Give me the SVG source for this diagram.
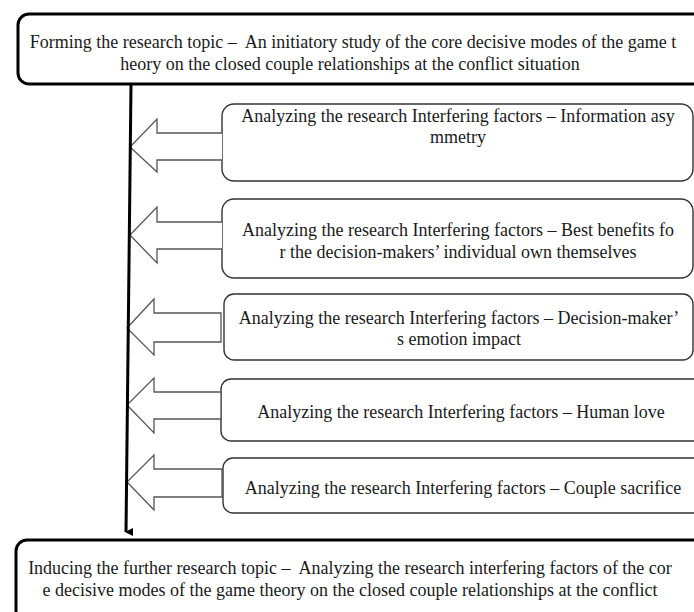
<svg xmlns="http://www.w3.org/2000/svg" width="694" height="612" viewBox="0 0 694 612">
<style>
.t{font-family:"Liberation Serif","Times New Roman",serif;font-size:18px;fill:#1a1a1a;text-anchor:middle;white-space:pre}
.big{fill:#fff;stroke:#000;stroke-width:3}
.box{fill:#fff;stroke:#333;stroke-width:1.4}
.arr{fill:#fff;stroke:#555;stroke-width:1.3;stroke-linejoin:miter}
</style>
<defs>
<marker id="ah" markerWidth="8" markerHeight="8" refX="4" refY="7" orient="auto" markerUnits="userSpaceOnUse" viewBox="0 0 8 8">
<path d="M0,0 L8,0 L4,8 Z" fill="#000"/>
</marker>
</defs>
<rect width="694" height="612" fill="#fff"/>
<g id="top">
<rect class="big" x="18" y="14" width="700" height="70" rx="11"/>
<text class="t" x="353" y="48">Forming the research topic –  An initiatory study of the core decisive modes of the game t</text>
<text class="t" x="350" y="70">heory on the closed couple relationships at the conflict situation</text>
</g>
<g id="f1">
<rect class="box" x="222" y="104" width="471" height="77" rx="12"/>
<text class="t" x="458" y="122">Analyzing the research Interfering factors – Information asy</text>
<text class="t" x="458" y="143">mmetry</text>
</g>
<g id="f2">
<rect class="box" x="222" y="199" width="471" height="79" rx="12"/>
<text class="t" x="458" y="236">Analyzing the research Interfering factors – Best benefits fo</text>
<text class="t" x="458" y="258">r the decision-makers’ individual own themselves</text>
</g>
<g id="f3">
<rect class="box" x="224" y="294" width="469" height="66" rx="10"/>
<text class="t" x="459" y="324">Analyzing the research Interfering factors – Decision-maker’</text>
<text class="t" x="459" y="345">s emotion impact</text>
</g>
<g id="f4">
<rect class="box" x="221" y="379" width="490" height="62" rx="10"/>
<text class="t" x="461" y="418">Analyzing the research Interfering factors – Human love</text>
</g>
<g id="f5">
<rect class="box" x="223" y="458" width="490" height="55" rx="10"/>
<text class="t" x="463" y="494">Analyzing the research Interfering factors – Couple sacrifice</text>
</g>
<g id="bottom">
<rect class="big" x="16" y="540" width="700" height="90" rx="11"/>
<text class="t" x="350" y="574">Inducing the further research topic –  Analyzing the research interfering factors of the cor</text>
<text class="t" x="350" y="596">e decisive modes of the game theory on the closed couple relationships at the conflict</text>
</g>
<g id="connectors">
<path class="arr" d="M222,133 L157,133 L157,119 L130,147 L157,172 L157,160 L222,160"/>
<path class="arr" d="M222,222 L157,222 L157,207 L130,235 L157,263 L157,249 L222,249"/>
<path class="arr" d="M221,342 L221,313 L154,313 L154,299 L127,328 L154,355 L154,342 Z"/>
<path class="arr" d="M221,419 L221,392 L154,392 L154,378 L127,405 L154,433 L154,419 Z"/>
<path class="arr" d="M222,497 L222,469 L154,469 L154,455 L127,482 L154,510 L154,497 Z"/>
<line x1="131" y1="84" x2="126" y2="532" stroke="#000" stroke-width="3" marker-end="url(#ah)"/>
</g>
</svg>
